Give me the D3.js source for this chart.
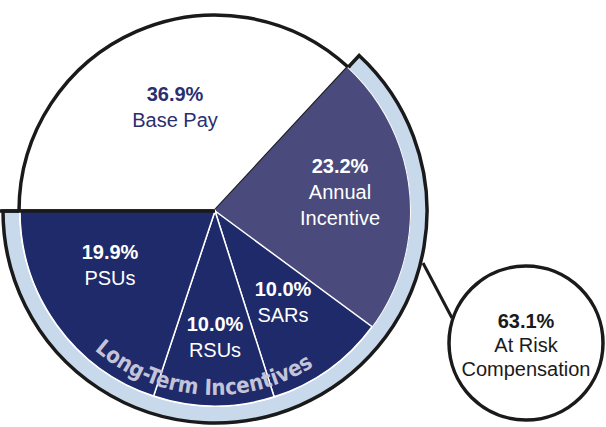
<!DOCTYPE html>
<html>
<head>
<meta charset="utf-8">
<script src="https://cdn.jsdelivr.net/npm/d3@7"></script>
<style>
  body { margin: 0; background: #fff; }
  text { font-family: "Liberation Sans", Arial, sans-serif; }
</style>
</head>
<body>
<div id="chart"></div>
<script>
const categories = ['Base Pay', 'Annual Incentive', 'SARs', 'RSUs', 'PSUs'];
const values = [36.9, 23.2, 10.0, 10.0, 19.9];
const labelLines = [['Base Pay'], ['Annual', 'Incentive'], ['SARs'], ['RSUs'], ['PSUs']];
const colors = ['#ffffff', '#4a4a7c', '#1f2a6a', '#1f2a6a', '#1f2a6a'];
const atRiskLabel = ['63.1%', 'At Risk', 'Compensation'];
const ringTitle = 'Long-Term Incentives';

const width = 606, height = 427;
const cx = 215, cy = 211, r = 196, ringR = 212;

const svg = d3.select('#chart').append('svg')
    .attr('width', width)
    .attr('height', height);

const g = svg.append('g').attr('transform', `translate(${cx},${cy})`);

const pie = d3.pie().sort(null)
    .startAngle(-Math.PI / 2)
    .endAngle(1.5 * Math.PI)
    .value(d => d);
const arcs = pie(values);

// light blue band around the at-risk part
const riskStart = arcs[1].startAngle, riskEnd = arcs[4].endAngle;
g.append('path')
    .attr('d', d3.arc()({ innerRadius: 0, outerRadius: ringR, startAngle: riskStart, endAngle: riskEnd }))
    .attr('fill', '#c9d9ec')
    .attr('stroke', '#1a1a1a')
    .attr('stroke-width', 3.5);

// base pay slice with black outline
g.append('path')
    .attr('d', d3.arc()({ innerRadius: 0, outerRadius: r, startAngle: arcs[0].startAngle, endAngle: arcs[0].endAngle }))
    .attr('fill', '#fff')
    .attr('stroke', '#1a1a1a')
    .attr('stroke-width', 3.5);

const arc = d3.arc().innerRadius(0).outerRadius(r - 1);
g.selectAll('path.slice')
    .data(arcs.slice(1))
    .enter().append('path')
    .attr('class', 'slice')
    .attr('d', arc)
    .attr('fill', (d, i) => colors[i + 1])
    .attr('stroke', (d, i) => i === 0 ? '#4a4a7c' : '#ffffff')
    .attr('stroke-width', 1.5);

// thin white edge between pie and band
g.append('path')
    .attr('d', d3.arc()({ innerRadius: r - 1, outerRadius: r, startAngle: riskStart, endAngle: riskEnd }))
    .attr('fill', '#fff');

// horizontal divider to the left edge
g.append('line')
    .attr('x1', -cx).attr('x2', 0).attr('y1', 0).attr('y2', 0)
    .attr('stroke', '#1a1a1a').attr('stroke-width', 3.5);

// curved title along the bottom
const titleR = 184;
const pt = a => [titleR * Math.sin(a), -titleR * Math.cos(a)];
const s = pt(221 * Math.PI / 180), e = pt(148 * Math.PI / 180);
g.append('path')
    .attr('id', 'titlePath')
    .attr('d', `M${s[0]},${s[1]} A${titleR},${titleR} 0 0 0 ${e[0]},${e[1]}`)
    .attr('fill', 'none');
g.append('text')
    .attr('fill', '#c4c4d8')
    .style('font-family', '"DejaVu Sans Condensed", "DejaVu Sans", sans-serif')
    .style('font-weight', 'bold')
    .style('font-size', '22px')
    .append('textPath')
    .attr('href', '#titlePath')
    .text(ringTitle);

// slice labels
const labelPos = [[-40, -110], [125, -38], [68, 85], [0, 120], [-105, 48]];
arcs.forEach((a, i) => {
    const [lx, ly] = labelPos[i];
    const fill = i === 0 ? '#2a2f6e' : '#ffffff';
    const t = g.append('text').attr('text-anchor', 'middle').attr('fill', fill).style('font-size', '20px');
    t.append('tspan').attr('x', lx).attr('y', ly).style('font-weight', 'bold').text(values[i].toFixed(1) + '%');
    labelLines[i].forEach((line, j) => {
        t.append('tspan').attr('x', lx).attr('y', ly + 26 * (j + 1)).text(line);
    });
});

// callout
const cc = [526, 343], cr = 77;
svg.append('line')
    .attr('x1', 423).attr('y1', 263).attr('x2', 452).attr('y2', 318)
    .attr('stroke', '#1a1a1a').attr('stroke-width', 3);
svg.append('circle')
    .attr('cx', cc[0]).attr('cy', cc[1]).attr('r', cr)
    .attr('fill', '#fff').attr('stroke', '#1a1a1a').attr('stroke-width', 3.5);
const ct = svg.append('text').attr('text-anchor', 'middle').attr('fill', '#1a1a1a').style('font-size', '20px');
atRiskLabel.forEach((line, j) => {
    ct.append('tspan').attr('x', cc[0]).attr('y', 328 + 24 * j)
        .style('font-weight', j === 0 ? 'bold' : 'normal').text(line);
});
</script>
</body>
</html>
